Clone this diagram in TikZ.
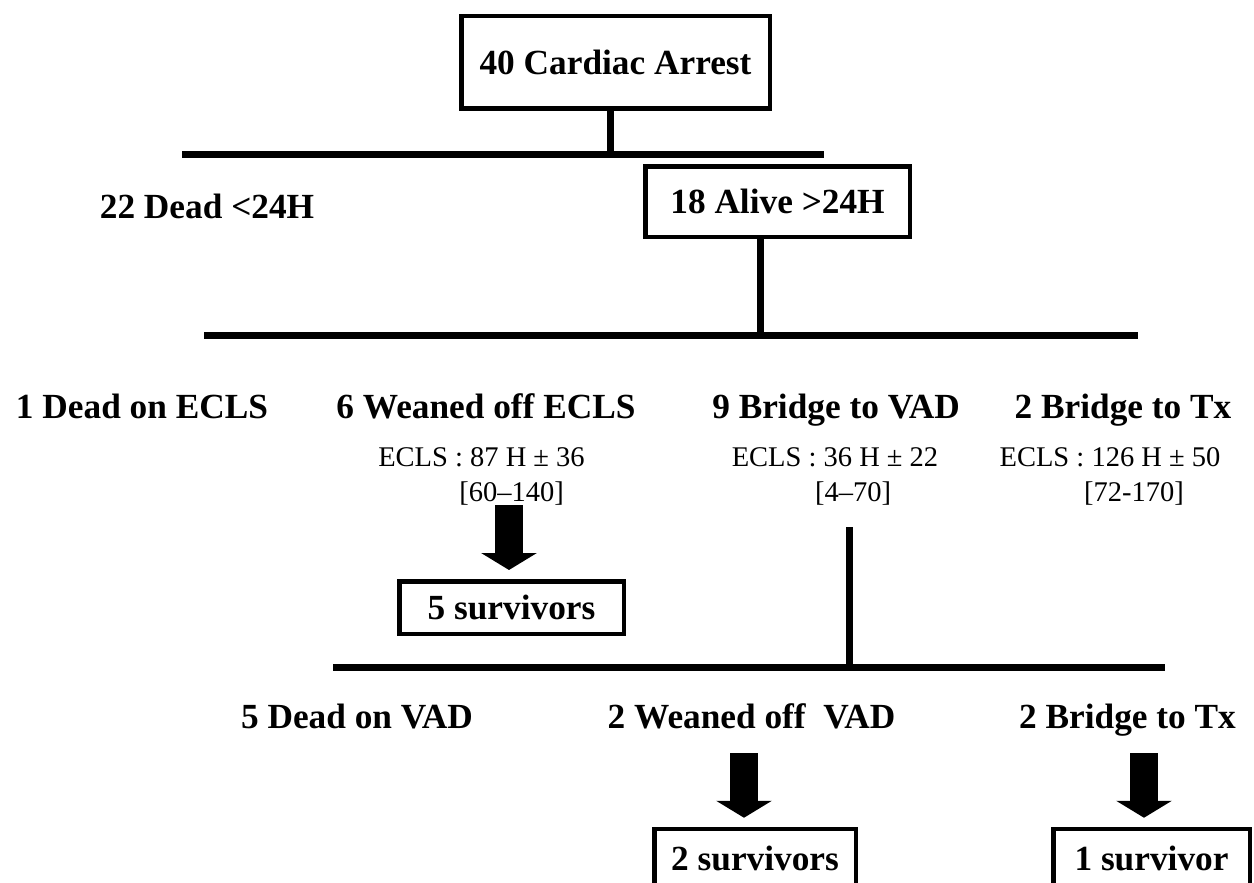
\documentclass[tikz,border=0pt]{standalone}
\usepackage{fontspec}
\setmainfont{Liberation Serif}
\usetikzlibrary{arrows.meta}
\newcommand\myLab{\bfseries\fontsize{35.3}{40}\selectfont}
\newcommand\mySub{\fontsize{28.5}{32}\selectfont}
\begin{document}
\begin{tikzpicture}[x=1pt,y=-1pt,
  box/.style={draw,line width=4.5pt,inner sep=0pt,font=\myLab},
  lbl/.style={anchor=base,inner sep=0pt,font=\myLab},
  sub/.style={anchor=base,inner sep=0pt,font=\mySub},
  bar/.style={line width=7pt},
  blockarrow/.style={line width=28pt,-{Triangle[width=55pt,length=17pt]},shorten >=9pt}]
\clip (0,0) rectangle (1254,883);
% boxes
\node[box,minimum width=308.5pt,minimum height=92.5pt] (c40) at (615.5,62.5) {40 Cardiac Arrest};
\node[box,minimum width=264.5pt,minimum height=70.5pt] (a18) at (777.5,201.5) {18 Alive >24H};
\node[lbl] (d22) at (207,218) {22 Dead <24H};
% first level labels
\node[lbl] (d1) at (142,418) {1 Dead on ECLS};
\node[lbl] (w6) at (486,418) {6 Weaned off ECLS};
\node[lbl] (b9) at (836,418) {9 Bridge to VAD};
\node[lbl] (b2) at (1123,418) {2 Bridge to Tx};
\node[sub] (e6) at (481.5,466.5) {ECLS : 87 H ± 36};
\node[sub] (e9) at (835,466.5) {ECLS : 36 H ± 22};
\node[sub] (e2) at (1110,466.5) {ECLS : 126 H ± 50};
\node[sub] (r6) at (511.5,501) {[60–140]};
\node[sub] (r9) at (853,501) {[4–70]};
\node[sub] (r2) at (1134,501) {[72-170]};
\node[box,minimum width=224.5pt,minimum height=52.5pt] (s5) at (511.5,607.5) {5 survivors};
% second level
\node[lbl] (dv5) at (357,728) {5 Dead on VAD};
\node[lbl] (wv2) at (751.5,728) {2 Weaned off\ \ VAD};
\node[lbl] (bt2) at (1127.5,728) {2 Bridge to Tx};
\node[box,minimum width=201.5pt,minimum height=58pt] (s2) at (755,858) {2 survivors};
\node[box,minimum width=196.5pt,minimum height=58pt] (s1) at (1151.5,858) {1 survivor};
% bars
\coordinate (b1L) at (182,154);
\coordinate (b1R) at (824,154);
\coordinate (b2L) at (204,335);
\coordinate (b2R) at (1138,335);
\coordinate (b3L) at (333,667);
\coordinate (b3R) at (1165,667);
\draw[bar] (b1L) -- (b1R);
\draw[bar] (b2L) -- (b2R);
\draw[bar] (b3L) -- (b3R);
\coordinate (v1t) at ([xshift=-5.5pt]c40.south);
\coordinate (v2t) at ([xshift=-17.5pt]a18.south);
\coordinate (v3t) at (849,527);
\draw[bar] (v1t) -- (v1t |- b1L);
\draw[bar] (v2t) -- (v2t |- b2L);
\draw[bar] (v3t) -- (v3t |- b3L);
% block arrows
\coordinate (ar1) at (509,505);
\coordinate (ar2) at (744,753);
\coordinate (ar3) at (1144,753);
\draw[blockarrow] (ar1) -- (ar1 |- s5.north);
\draw[blockarrow] (ar2) -- (ar2 |- s2.north);
\draw[blockarrow] (ar3) -- (ar3 |- s1.north);
\end{tikzpicture}
\end{document}
